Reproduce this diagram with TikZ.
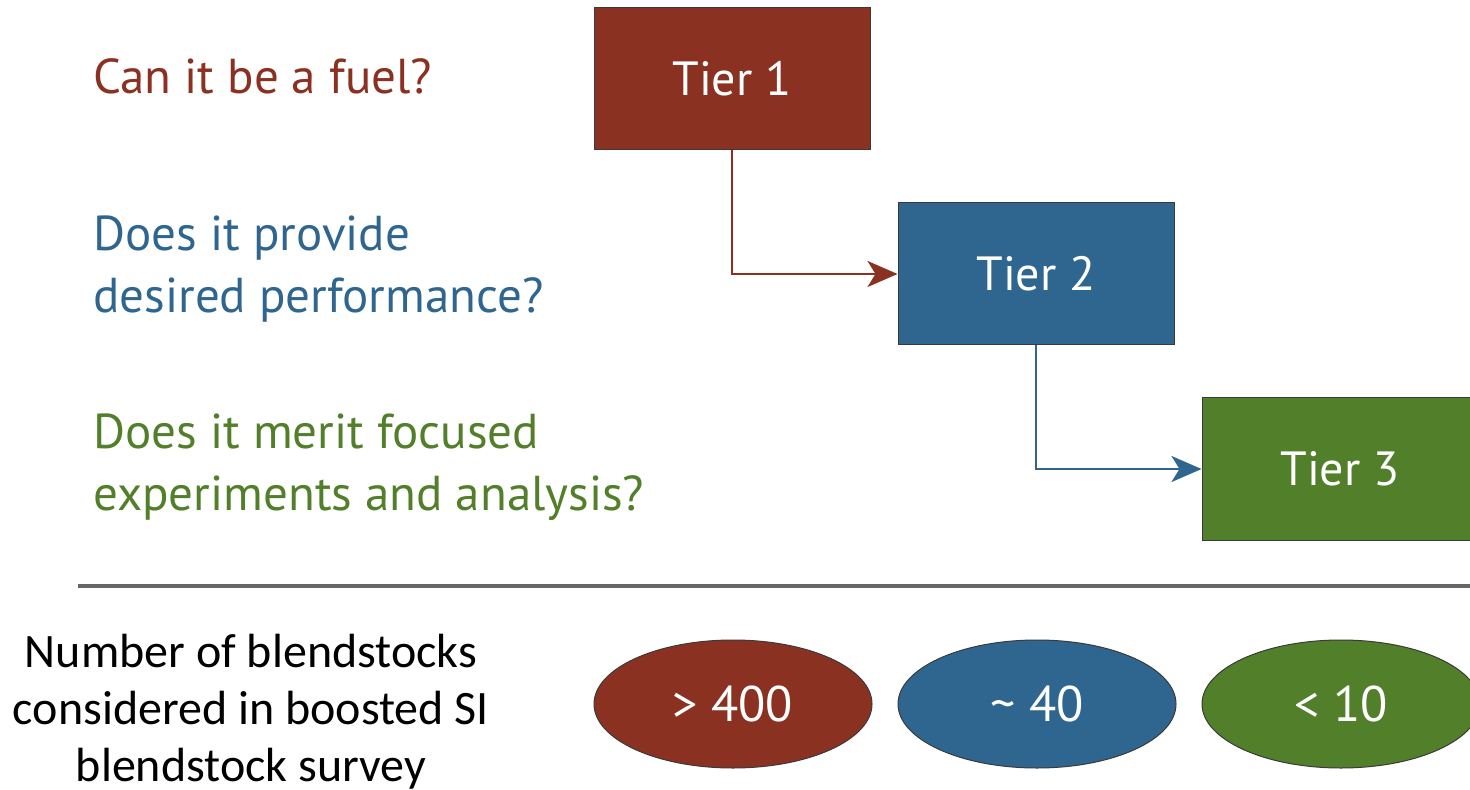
\documentclass[tikz,border=0pt]{standalone}
\usepackage{fontspec}
\setmainfont{PT Sans}
\newfontfamily\calfont{Carlito}
\usetikzlibrary{arrows.meta,shapes.geometric}
\definecolor{tred}{HTML}{8B3121}
\definecolor{tblue}{HTML}{2F6690}
\definecolor{tgreen}{HTML}{527F2A}
\definecolor{rulegray}{HTML}{666666}
\definecolor{edgegray}{HTML}{3A3A3A}
\begin{document}
\begin{tikzpicture}[x=0.5pt,y=-0.5pt,
  tierbox/.style={draw=edgegray, line width=0.5pt, minimum width=138pt, minimum height=71pt,
    inner sep=0pt, text=white, font=\fontsize{24}{30}\selectfont},
  countell/.style={ellipse, draw=edgegray, line width=0.5pt, minimum width=139pt, minimum height=64pt,
    inner sep=0pt, text=white, font=\fontsize{25}{30}\selectfont},
  question/.style={anchor=base west, align=left, inner sep=0pt, font=\fontsize{24.5}{31}\selectfont},
  flow/.style={line width=1.2pt, -{Stealth[length=15pt,width=13pt,inset=4pt]}}
]
\useasboundingbox (0,0) rectangle (1470,790);
\clip (0,0) rectangle (1470,790);

\node[question, text=tred] (q1) at (93,94) {Can it be a fuel?};
\node[question, text=tblue] (q2) at (93,313) {Does it provide\\desired performance?};
\node[question, text=tgreen] (q3) at (93,510) {Does it merit focused\\experiments and analysis?};

\node[tierbox, fill=tred] (t1) at (732,79) {Tier 1};
\node[tierbox, fill=tblue] (t2) at (1036,274) {Tier 2};
\node[tierbox, fill=tgreen] (t3) at (1340,469) {Tier 3};

\draw[flow, draw=tred] (t1.south) |- (t2.west);
\draw[flow, draw=tblue] (t2.south) |- (t3.west);

\coordinate (ruleL) at (78,586);
\coordinate (ruleR) at (1470,586);
\draw[rulegray, line width=2pt] (ruleL) -- (ruleR);

\node[anchor=base, align=center, inner sep=0pt, font=\calfont\fontsize{24}{28.5}\selectfont] (lbl) at (251,781)
  {Number of blendstocks\\considered in boosted SI\\blendstock survey};

\node[countell, fill=tred] (e1) at (733,704) {> 400};
\node[countell, fill=tblue] (e2) at (1037,704) {\textasciitilde\ 40};
\node[countell, fill=tgreen] (e3) at (1341,704) {< 10};
\end{tikzpicture}
\end{document}
